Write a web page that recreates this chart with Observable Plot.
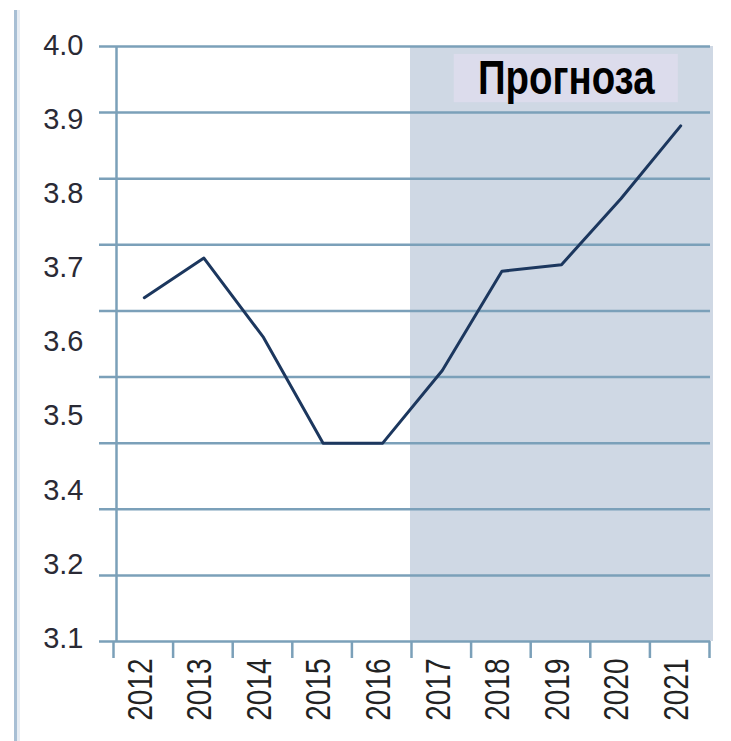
<!DOCTYPE html>
<html>
<head>
<meta charset="utf-8">
<script src="https://cdn.jsdelivr.net/npm/d3@7"></script>
<script src="https://cdn.jsdelivr.net/npm/@observablehq/plot@0.6"></script>
<style>
  html, body { margin: 0; padding: 0; background: #fff; }
  #wrap { position: relative; width: 731px; height: 741px; overflow: hidden; }
  #edge { position: absolute; left: 14px; top: 10px; width: 3px; height: 731px; background: #a8bfd4; border-right: 3px solid #e8edf3; }
  #chart { position: absolute; left: 0; top: 0; }
</style>
</head>
<body>
<div id="wrap"><div id="edge"></div><div id="chart"></div></div>
<script>
const years = [2012, 2013, 2014, 2015, 2016, 2017, 2018, 2019, 2020, 2021];
const values = [3.62, 3.68, 3.56, 3.40, 3.40, 3.51, 3.66, 3.67, 3.77, 3.88];
const gridValues = [3.1, 3.2, 3.3, 3.4, 3.5, 3.6, 3.7, 3.8, 3.9, 4.0];
const yTickLabels = ["3.1", "3.2", "3.4", "3.5", "3.6", "3.7", "3.8", "3.9", "4.0"];
const forecastStart = 2017;
const forecastLabel = "Прогноза";

const data = years.map((year, i) => ({year, value: values[i]}));
const yMin = gridValues[0], yMax = gridValues[gridValues.length - 1];
const xMin = years[0] - 0.5, xMax = years[years.length - 1] + 0.5;
// label slots are spread evenly over the axis (as in the original picture)
const labelPos = yTickLabels.map((_, i) => yMin + 0.0045 + i * (yMax + 0.0017 - yMin - 0.0045) / (yTickLabels.length - 1));
const boundaries = [...years.map(y => y - 0.5), xMax];

const grid = "#7ba0b9";

const chart = Plot.plot({
  width: 731,
  height: 741,
  marginLeft: 114,
  marginRight: 21,
  marginTop: 46,
  marginBottom: 100,
  style: {fontFamily: "'Liberation Sans', Arial, sans-serif", background: "transparent"},
  x: {domain: [xMin, xMax], axis: null},
  y: {domain: [yMin, yMax], axis: null},
  marks: [
    Plot.rect([{}], {x1: forecastStart - 0.5, x2: xMax, y1: yMin, y2: yMax, fill: "#cfd8e4", insetRight: -3, insetLeft: -2}),
    Plot.rect([{}], {x1: 2017.2, x2: 2020.96, y1: 3.915, y2: 3.988, fill: "#dcdcec"}),
    Plot.ruleY(gridValues, {stroke: grid, strokeWidth: 2.5, insetLeft: -15}),
    Plot.ruleX([xMin], {stroke: grid, strokeWidth: 2.5, dx: 2}),
    Plot.axisX({ticks: boundaries, tickSize: 17, tickFormat: () => "", label: null, stroke: grid, strokeWidth: 2.5, dx: -1}),
    Plot.line(data, {x: "year", y: "value", stroke: "#1c375e", strokeWidth: 3}),
    Plot.text(yTickLabels, {y: (d, i) => labelPos[i], text: d => d, frameAnchor: "left", textAnchor: "end", dx: -31, fontSize: 29, fill: "#2a2a35"}),
    Plot.text(years, {x: d => d, text: d => String(d), frameAnchor: "bottom", rotate: -90, textAnchor: "end", lineAnchor: "middle", dy: 17, dx: -4, fontSize: 35, fill: "#222", className: "xlab"}),
    Plot.text([forecastLabel], {x: 2019.08, y: 3.952, text: d => d, fontSize: 48, fontWeight: "bold", fill: "#000", className: "flab"})
  ]
});

// condense the x labels and the forecast label horizontally (narrow face)
d3.select(chart).selectAll(".xlab text, .flab text").each(function () {
  const t = this.getAttribute("transform") || "";
  this.setAttribute("transform", t + " scale(0.8,1)");
});
document.getElementById("chart").appendChild(chart);
</script>
</body>
</html>
